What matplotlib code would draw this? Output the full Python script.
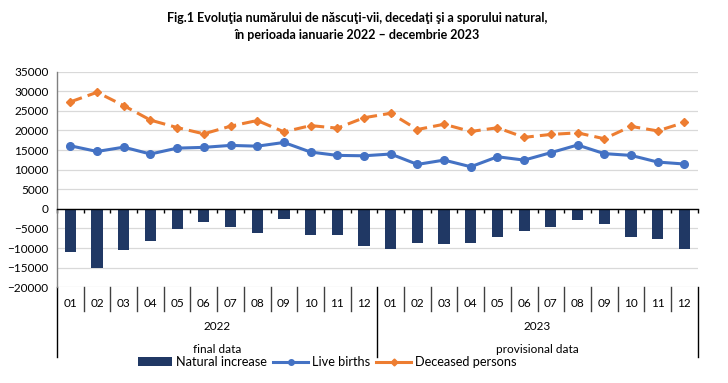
import numpy as np
import matplotlib
matplotlib.use("Agg")
import matplotlib.pyplot as plt
import matplotlib.transforms as mtransforms
from matplotlib.lines import Line2D

plt.rcParams["font.family"] = ["Lato", "DejaVu Sans"]

months = ["01", "02", "03", "04", "05", "06", "07", "08", "09", "10", "11", "12"] * 2
years = ["2022", "2023"]
data_status = ["final data", "provisional data"]

live_births = [16100, 14650, 15750, 14000, 15500, 15700, 16200, 16000, 16950, 14500, 13650, 13550,
               14000, 11350, 12450, 10750, 13300, 12450, 14350, 16300, 14100, 13650, 11950, 11450]
deceased = [27300, 29750, 26350, 22650, 20750, 19150, 21100, 22550, 19650, 21250, 20600, 23250,
            24400, 20250, 21600, 19750, 20700, 18250, 19000, 19400, 17900, 21050, 19900, 22050]
natural_increase = [-11050, -15000, -10550, -8300, -5100, -3300, -4650, -6200, -2650, -6550, -6700, -9500,
                    -10250, -8750, -8900, -8750, -7200, -5700, -4500, -2950, -3750, -7150, -7750, -10350]

W, H = 728, 383
fig = plt.figure(figsize=(W / 100, H / 100), dpi=100)
fig.patch.set_facecolor("white")

left_px, right_px, top_px, bot_px = 57, 697.7, 71.7, 287.3
ax = fig.add_axes([left_px / W, 1 - bot_px / H, (right_px - left_px) / W, (bot_px - top_px) / H])
ax_h = bot_px - top_px

x = np.arange(len(months)) + 0.5
bars = ax.bar(x, natural_increase, width=0.42, color="#203864", zorder=2)
ax.plot(x, live_births, color="#4472C4", lw=2.2, marker="o", ms=5.5, zorder=3)
ax.plot(x, deceased, color="#ED7D31", lw=2.2, ls=(0, (4, 2)), marker="D", ms=4.5, zorder=3)

ax.set_xlim(0, len(months))
ax.set_ylim(-20000, 35000)
ax.set_yticks(np.arange(-20000, 35001, 5000))
ax.yaxis.grid(True, color="#d9d9d9", lw=0.9, zorder=0)
ax.set_axisbelow(True)
ax.tick_params(axis="y", length=0, labelsize=8.5, pad=6, colors="#000000")

for s in ["top", "right"]:
    ax.spines[s].set_visible(False)
ax.spines["left"].set_color("#808080")
ax.spines["left"].set_linewidth(1.0)
ax.spines["bottom"].set_position(("data", 0))
ax.spines["bottom"].set_color("#000000")
ax.spines["bottom"].set_linewidth(1.0)
ax.spines["bottom"].set_zorder(4)
ax.set_xticks(np.arange(0, len(months) + 1))
ax.tick_params(axis="x", direction="out", length=3, width=1, labelbottom=False, color="#000000")

# multi-level category axis below the plot
trans = mtransforms.blended_transform_factory(ax.transData, ax.transAxes)
short = -23.4 / ax_h
long_ = -70.0 / ax_h
for b in range(len(months) + 1):
    end = long_ if b % 12 == 0 else short
    ax.plot([b, b], [0, end], transform=trans, color="#404040" if b % 12 else "#000000",
            lw=1.0, clip_on=False)
for i, m in enumerate(months):
    ax.text(i + 0.5, -16 / ax_h, m, transform=trans, ha="center", va="center", fontsize=8.5)
for j, (yr, st) in enumerate(zip(years, data_status)):
    ax.text(j * 12 + 6, -38.7 / ax_h, yr, transform=trans, ha="center", va="center", fontsize=8.5)
    ax.text(j * 12 + 6, -62 / ax_h, st, transform=trans, ha="center", va="center", fontsize=8.5)

fig.text(357 / W, 1 - 18 / H, "Fig.1 Evoluţia numărului de născuţi-vii, decedaţi şi a sporului natural,",
         ha="center", va="center", fontsize=9, fontweight="bold")
fig.text(357 / W, 1 - 35 / H, "în perioada ianuarie 2022 – decembrie 2023",
         ha="center", va="center", fontsize=9, fontweight="bold")

h_births = Line2D([], [], color="#4472C4", lw=2.2, marker="o", ms=4)
h_dec = Line2D([], [], color="#ED7D31", lw=2.2, marker="D", ms=3.5)
fig.legend([bars, h_births, h_dec], ["Natural increase", "Live births", "Deceased persons"],
           loc="center", bbox_to_anchor=(327 / W, 1 - 362 / H), ncol=3, frameon=False,
           fontsize=9.2, handlelength=2.7, handletextpad=0.3, columnspacing=0.5,
           borderaxespad=0, handleheight=0.6)

fig.savefig("out.png", dpi=100)
